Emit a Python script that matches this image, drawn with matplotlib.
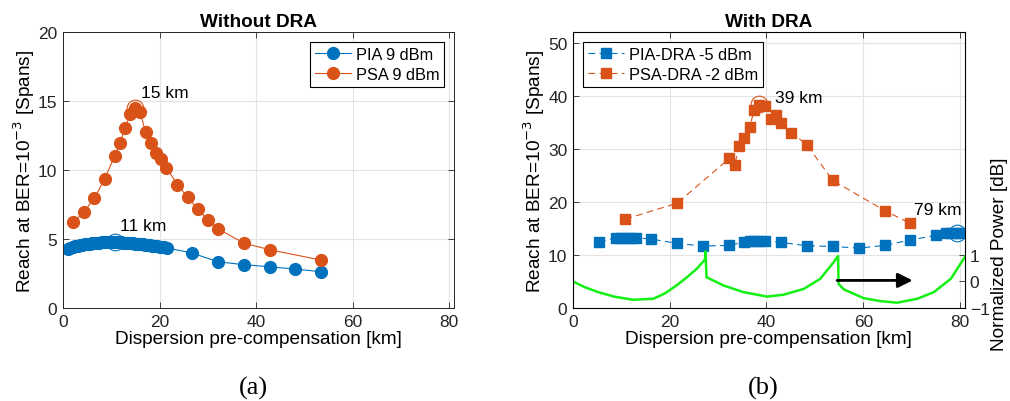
import matplotlib
matplotlib.use("Agg")
import matplotlib.pyplot as plt

plt.rcParams['font.family'] = ['Liberation Sans', 'DejaVu Sans']
plt.rcParams['xtick.direction'] = 'in'
plt.rcParams['ytick.direction'] = 'in'

# ---- data ----
# (a) without DRA
pia_x = [1.0, 1.5, 2.0, 2.5, 3.0, 3.5, 4.0, 4.5, 5.0, 5.5, 6.0, 6.5, 7.0, 7.5, 8.0,
         8.5, 9.0, 9.5, 10.0, 10.5, 11.0, 11.5, 12.0, 12.5, 13.0, 13.5, 14.0, 14.5,
         15.0, 15.5, 16.0, 16.5, 17.0, 17.5, 18.0, 18.5, 19.0, 19.5, 20.0, 20.5,
         21.0, 21.5, 26.8, 32.1, 37.5, 42.8, 48.1, 53.5]
pia_y = [4.30, 4.36, 4.41, 4.46, 4.50, 4.54, 4.58, 4.61, 4.64, 4.67, 4.69, 4.71,
         4.73, 4.74, 4.75, 4.76, 4.77, 4.77, 4.77, 4.77, 4.77, 4.76, 4.75, 4.74,
         4.73, 4.72, 4.70, 4.69, 4.67, 4.65, 4.63, 4.61, 4.59, 4.57, 4.55, 4.52,
         4.50, 4.47, 4.45, 4.42, 4.39, 4.36, 3.98, 3.35, 3.14, 2.99, 2.82, 2.63]

psa_x = [2.1, 4.35, 6.5, 8.6, 10.7, 11.8, 12.85, 13.95, 14.9, 15.95, 17.1, 18.2,
         19.3, 20.4, 21.4, 23.7, 25.8, 27.9, 30.05, 32.2, 37.5, 42.9, 53.5]
psa_y = [6.2, 6.97, 7.96, 9.34, 11.0, 11.94, 13.05, 14.04, 14.47, 14.2, 12.76,
         11.99, 11.2, 10.78, 10.18, 8.95, 8.03, 7.19, 6.37, 5.72, 4.70, 4.22, 3.47]

# (b) with DRA
piad_x = [5.4, 8.85, 9.9, 10.9, 12.0, 13.0, 16.2, 21.55, 26.9, 32.3, 35.4, 36.5,
          37.5, 38.5, 39.7, 43.0, 48.3, 53.7, 59.1, 64.5, 69.6, 75.0, 77.0, 78.1,
          79.1, 80.1]
piad_y = [12.42, 13.24, 13.24, 13.24, 13.24, 13.24, 12.99, 12.17, 11.67, 11.8,
          12.42, 12.6, 12.7, 12.72, 12.7, 12.36, 11.73, 11.6, 11.29, 11.8, 12.8,
          13.68, 14.05, 14.05, 14.05, 14.05]

psad_x = [10.85, 21.55, 32.3, 33.4, 34.4, 35.4, 36.5, 37.5, 38.5, 39.7, 40.9,
          41.9, 43.0, 45.1, 48.3, 53.7, 64.5, 69.6]
psad_y = [16.75, 19.76, 28.17, 26.98, 30.55, 32.12, 34.13, 37.33, 38.2, 38.08,
          35.7, 36.32, 34.88, 33.06, 30.8, 24.03, 18.32, 16.0]

# normalized signal power along the link [dB]
pow_x = [0.0, 2.5, 5.2, 8.5, 12.4, 16.6, 19.0, 21.4, 23.5, 25.6, 27.3, 27.4,
         27.6, 31.1, 35.2, 40.1, 43.5, 47.7, 51.1, 53.9, 54.8, 54.9,
         56.0, 60.1, 63.5, 67.0, 71.2, 74.6, 78.1, 81.2]
pow_y = [0.0, -0.22, -0.40, -0.57, -0.69, -0.65, -0.45, -0.15, 0.15, 0.48, 0.83,
         1.13, 0.16, -0.15, -0.40, -0.57, -0.50, -0.28, 0.10, 0.73, 0.96, -0.09,
         -0.30, -0.63, -0.74, -0.80, -0.65, -0.40, 0.10, 0.98]

blue = '#0072BD'
orange = '#D95319'
ylab = 'Reach at BER=10$^{-3}$ [Spans]'
xlab = 'Dispersion pre-compensation [km]'
tick_fs = 12.5
lab_fs = 13.7

fig = plt.figure(figsize=(10.1, 4.02), dpi=100)
ax1 = fig.add_axes([0.0624, 0.2313, 0.387, 0.6866])
ax2 = fig.add_axes([0.5673, 0.2313, 0.388, 0.6866])

for ax in (ax1, ax2):
    ax.grid(True, color='#e3e3e3', linewidth=0.8)
    ax.set_axisbelow(True)
    ax.tick_params(labelsize=tick_fs, top=True, right=True, length=4, width=0.6,
                   colors='#262626', pad=4)
    for sp in ax.spines.values():
        sp.set_color('#262626')
        sp.set_linewidth(0.7)
    ax.set_xlim(0, 81)
    ax.set_xticks([0, 20, 40, 60, 80])
    ax.set_xlabel(xlab, fontsize=lab_fs, labelpad=1)
    ax.set_ylabel(ylab, fontsize=lab_fs, labelpad=1)

leg_kw = dict(fontsize=11.8, handlelength=2.2, fancybox=False, edgecolor='black',
              framealpha=1, borderaxespad=0.6, handletextpad=0.3, borderpad=0.3,
              labelspacing=0.3)

# ---- (a) ----
ax1.plot(pia_x, pia_y, '-o', color=blue, lw=0.8, ms=8.5, label='PIA 9 dBm')
ax1.plot(psa_x, psa_y, '-o', color=orange, lw=0.8, ms=8.5, label='PSA 9 dBm')
ax1.plot([10.7], [4.75], 'o', mfc='none', mec=blue, ms=12, mew=0.8)
ax1.plot([14.9], [14.47], 'o', mfc='none', mec=orange, ms=12, mew=0.8)
ax1.text(16.2, 15.6, '15 km', fontsize=12.5, va='center')
ax1.text(11.9, 5.96, '11 km', fontsize=12.5, va='center')
ax1.set_ylim(0, 20)
ax1.set_yticks([0, 5, 10, 15, 20])
ax1.set_title('Without DRA', fontsize=lab_fs, fontweight='bold', pad=4)
leg = ax1.legend(loc='upper right', **leg_kw)
leg.get_frame().set_linewidth(0.8)

# ---- (b) ----
ax2.plot(piad_x, piad_y, '--s', color=blue, lw=0.8, ms=6.5, dashes=(6, 4),
         label='PIA-DRA -5 dBm')
ax2.plot(psad_x, psad_y, '--s', color=orange, lw=0.8, ms=6.5, dashes=(6, 4),
         label='PSA-DRA -2 dBm')
ax2.plot([38.5], [38.5], 'o', mfc='none', mec=orange, ms=12, mew=0.8)
ax2.plot([79.4], [14.05], 'o', mfc='none', mec=blue, ms=12, mew=0.8)
ax2.text(41.8, 39.6, '39 km', fontsize=12.5, va='center')
ax2.text(70.5, 18.5, '79 km', fontsize=12.5, va='center')
ax2.set_ylim(0, 52)
ax2.set_yticks([0, 10, 20, 30, 40, 50])
ax2.set_title('With DRA', fontsize=lab_fs, fontweight='bold', pad=4)
leg2 = ax2.legend(loc='upper left', **leg_kw)
leg2.get_frame().set_linewidth(0.8)

ax2r = ax2.twinx()
ax2r.set_position(ax2.get_position())
ax2r.plot(pow_x, pow_y, '-', color='#14f014', lw=1.8)
ax2r.set_ylim(-1, 9.4)
ax2r.set_yticks([-1, 0, 1])
ax2r.tick_params(labelsize=tick_fs, direction='in', length=4, width=0.6, colors='#262626')
ax2r.set_ylabel('Normalized Power [dB]', fontsize=lab_fs)
ax2r.yaxis.set_label_coords(1.066, 0.2)
ax2r.annotate('', xy=(70.2, 0.04), xytext=(54.6, 0.04),
              arrowprops=dict(arrowstyle='-|>', color='black', lw=2,
                              mutation_scale=22, shrinkA=0, shrinkB=0))

fig.text(0.2505, 0.018, '(a)', fontsize=19, family='Liberation Serif', ha='center')
fig.text(0.7555, 0.018, '(b)', fontsize=19, family='Liberation Serif', ha='center')

fig.savefig('out.png', dpi=100)
